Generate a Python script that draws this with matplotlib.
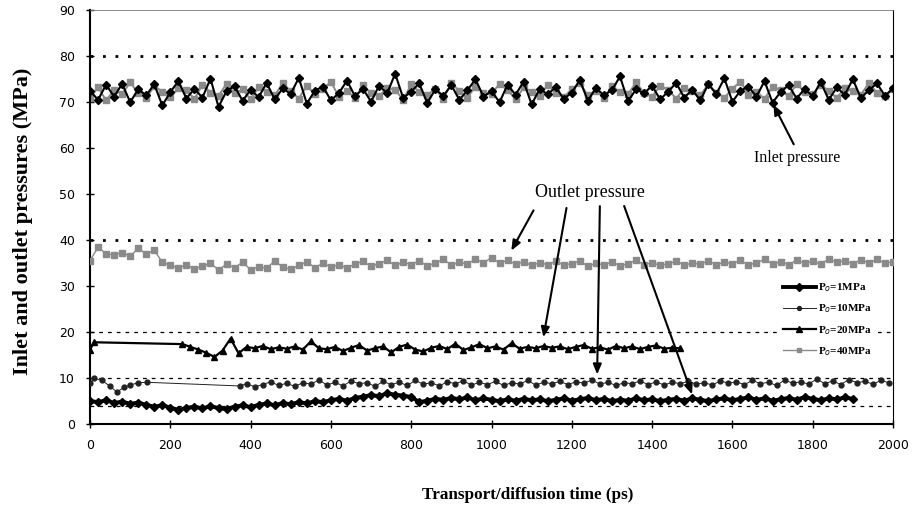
import matplotlib
matplotlib.use("Agg")
import matplotlib.pyplot as plt

# inlet pressure traces (every 20 ps from 0 to 2000)
inlet_black = [
    72.5, 70.5, 73.8, 71.2, 74.0, 70.0, 72.8, 71.5, 73.9, 69.3, 72.2, 74.6, 70.8, 72.9, 71.0, 75.1, 69.0, 72.4, 73.5, 70.3,
    72.7, 71.1, 74.2, 70.6, 73.0, 71.8, 75.3, 69.7, 72.5, 73.4, 70.4, 72.0, 74.7, 71.3, 72.9, 70.1, 73.6, 71.9, 76.2, 70.9,
    72.3, 74.1, 69.8, 72.8, 71.4, 73.7, 70.5, 72.6, 75.0, 71.2, 72.4, 70.0, 73.8, 71.6, 74.5, 69.5, 72.9, 71.7, 73.3, 70.7,
    72.1, 74.8, 70.3, 73.1, 71.5, 72.6, 75.6, 70.2, 72.8, 71.9, 73.6, 70.6, 72.3, 74.2, 71.0, 72.7, 70.4, 73.9, 71.8, 75.2,
    70.1, 72.5, 73.4, 71.2, 74.6, 69.9, 72.2, 73.7, 70.8, 72.9, 71.3, 74.4, 70.5, 73.2, 71.6, 75.0, 70.9, 72.6, 74.1, 71.4, 73.0]
inlet_gray = [
    71.0, 73.2, 70.4, 72.6, 71.8, 74.3, 72.0, 70.9, 73.5, 72.3, 71.1, 73.0, 72.6, 70.7, 73.8, 72.1, 71.4, 74.0, 71.9, 72.8,
    70.6, 73.3, 72.2, 71.5, 74.1, 72.4, 70.8, 73.6, 71.7, 72.9, 74.4, 71.2, 72.5, 70.9, 73.7, 72.0, 71.3, 73.1, 72.7, 70.5,
    73.9, 72.2, 71.6, 72.9, 70.7, 74.2, 72.4, 71.0, 73.4, 72.1, 71.8, 74.0, 72.6, 70.6, 73.2, 72.3, 71.4, 73.8, 72.0, 71.1,
    72.8, 74.1, 71.5, 72.5, 70.9, 73.5, 72.2, 71.7, 74.3, 72.0, 71.2, 73.6, 72.7, 70.8, 73.0, 72.4, 71.5, 73.9, 72.1, 71.0,
    72.9, 74.5, 71.6, 72.3, 70.7, 73.4, 72.6, 71.3, 74.0, 72.2, 71.8, 73.7, 72.5, 70.9, 73.1, 72.4, 71.6, 74.2, 72.0, 71.4, 72.8]

# outlet pressures
p40 = [
    35.5, 38.5, 37.0, 36.8, 37.3, 36.5, 38.2, 37.0, 37.8, 35.2, 34.5, 34.0, 34.6, 33.8, 34.3, 35.0, 33.5, 34.8, 34.0, 35.2,
    33.6, 34.2, 33.9, 35.5, 34.1, 33.7, 34.5, 35.3, 34.0, 35.0, 34.2, 34.6, 34.0, 34.8, 35.4, 34.3, 34.9, 35.6, 34.5, 35.2,
    34.7, 35.5, 34.4, 35.0, 35.8, 34.6, 35.2, 34.8, 35.9, 35.1, 36.2, 35.0, 35.6, 34.8, 35.3, 34.5, 35.1, 34.7, 35.4, 34.6,
    34.9, 35.5, 34.3, 35.0, 34.6, 35.3, 34.4, 34.9, 35.6, 34.7, 35.1, 34.5, 34.9, 35.4, 34.6, 35.0, 34.8, 35.5, 34.7, 35.2,
    34.9, 35.6, 34.6, 35.1, 35.8, 34.8, 35.3, 34.7, 35.6, 35.0, 35.4, 34.8, 35.9, 35.2, 35.5, 34.9, 35.7, 35.1, 35.8, 35.0, 35.3]

t20_head = [0, 10, 230]
p20_head = [16.2, 17.8, 17.4]
p20_tail = [  # from 250 ps, every 20 ps
    16.8, 16.2, 15.5, 14.6, 16.0, 18.6, 15.4, 16.8, 16.5, 17.0, 16.3, 16.7, 16.4, 16.9, 16.2, 18.0, 16.5, 16.3, 16.8, 15.9,
    16.6, 17.2, 16.0, 16.5, 16.9, 15.6, 16.8, 17.3, 16.2, 15.8, 16.6, 17.0, 16.3, 17.5, 16.1, 16.7, 17.4, 16.5, 16.9, 16.2,
    17.6, 16.4, 16.8, 16.5, 17.0, 16.6, 16.9, 16.3, 16.8, 17.2, 16.4, 16.7, 16.2, 17.0, 16.5, 16.9, 16.3, 16.8, 17.1, 16.4,
    16.6, 16.5]

t10_head = [0, 10, 30, 50, 67, 85, 100, 120, 141, 373]
p10_head = [8.9, 10.0, 9.5, 8.2, 7.0, 8.0, 8.5, 9.0, 9.1, 8.3]
p10_tail = [  # from 390 ps, every 20 ps
    8.8, 8.1, 8.6, 9.2, 8.4, 8.9, 8.2, 9.0, 8.7, 9.6, 8.5, 9.1, 8.3, 9.4, 8.8, 9.0, 8.2, 9.3, 8.6, 9.1,
    8.4, 9.5, 8.7, 9.0, 8.3, 9.2, 8.8, 9.4, 8.5, 9.1, 8.6, 9.3, 8.4, 9.0, 8.7, 9.5, 8.5, 9.1, 8.8, 9.3,
    8.6, 9.2, 8.9, 9.6, 8.7, 9.1, 8.4, 9.0, 8.8, 9.4, 8.6, 9.2, 8.5, 9.1, 8.8, 9.3, 8.7, 9.0, 8.5, 9.4,
    8.9, 9.2, 8.6, 9.5, 8.8, 9.1, 8.4, 9.6, 8.9, 9.2, 8.7, 9.8, 8.8, 9.4, 8.6, 9.7, 9.0, 9.3, 8.7, 9.5, 9.0]

p1 = [  # every 20 ps, 0..1900
    5.0, 4.8, 5.2, 4.6, 4.9, 4.4, 4.7, 4.2, 3.8, 4.1, 3.6, 3.1, 3.5, 3.8, 3.4, 3.9, 3.5, 3.3, 3.8, 4.1,
    3.7, 4.2, 4.5, 4.1, 4.6, 4.3, 4.8, 4.5, 5.0, 4.8, 5.2, 5.5, 5.1, 5.7, 6.0, 6.3, 6.1, 6.7, 6.4, 6.2,
    5.9, 4.8, 5.1, 5.5, 5.3, 5.7, 5.4, 5.8, 5.2, 5.6, 5.3, 5.0, 5.4, 5.1, 5.5, 5.2, 5.4, 5.0, 5.3, 5.6,
    5.1, 5.4, 5.7, 5.2, 5.5, 5.0, 5.3, 5.1, 5.6, 5.2, 5.4, 5.0, 5.3, 5.5, 5.1, 5.6, 5.3, 5.0, 5.4, 5.6,
    5.2, 5.5, 5.8, 5.3, 5.6, 5.1, 5.4, 5.7, 5.3, 5.9, 5.5, 5.2, 5.6, 5.4, 5.8, 5.5]

ref_heavy = [80, 40]
ref_light = [20, 10, 4]
labels = ["P$_o$=1MPa", "P$_o$=10MPa", "P$_o$=20MPa", "P$_o$=40MPa"]

t_full = [20 * i for i in range(len(inlet_black))]
t1 = [20 * i for i in range(len(p1))]
t20 = t20_head + [250 + 20 * i for i in range(len(p20_tail))]
t10 = t10_head + [390 + 20 * i for i in range(len(p10_tail))]

serif = "Liberation Serif"
fig = plt.figure(figsize=(9.14, 5.11), dpi=100)
ax = fig.add_axes([0.0985, 0.170, 0.8785, 0.810])

for y in ref_heavy:
    ax.axhline(y, color="black", lw=2, ls=(0, (1, 3.5)), zorder=1)
for y in ref_light:
    ax.axhline(y, color="black", lw=0.9, ls=(0, (3, 4)), zorder=1)

gray = "#8a8a8a"
ax.plot(t_full, inlet_gray, color=gray, lw=1.4, marker="s", ms=4.5, zorder=2)
ax.plot(t_full, inlet_black, color="black", lw=1.5, marker="D", ms=4, zorder=3)

l1, = ax.plot(t1, p1, color="black", lw=2.8, marker="D", ms=4.5, zorder=3)
l10, = ax.plot(t10, p10_head + p10_tail, color="#222222", lw=0.7, marker="o", ms=3.5, zorder=3)
l20, = ax.plot(t20, p20_head + p20_tail, color="black", lw=1.6, marker="^", ms=5, zorder=3)
l40, = ax.plot(t_full, p40, color=gray, lw=1.0, marker="s", ms=3.8, zorder=3)

leg = ax.legend([l1, l10, l20, l40], labels, loc="upper left", bbox_to_anchor=(0.86, 0.35),
                frameon=True, framealpha=1, edgecolor="white", fancybox=False,
                prop={"family": serif, "size": 8, "weight": "bold"},
                handlelength=3.0, handletextpad=0.2, labelspacing=0.75, borderpad=0.2,
                borderaxespad=0, markerscale=0.8)
leg.set_zorder(5)

arrow = dict(arrowstyle="-|>,head_length=0.6,head_width=0.25", color="black", lw=1.5)
ax.text(1245, 50.4, "Outlet pressure", family=serif, fontsize=13, ha="center", va="center")
for start, tip in [((1108, 47), (1046, 37.2)), ((1188, 47.6), (1128, 18.3)),
                   ((1270, 48), (1263, 10.2)), ((1328, 48), (1502, 5.9))]:
    ax.annotate("", xy=tip, xytext=start, arrowprops=arrow, zorder=6)
ax.text(1761, 57.8, "Inlet pressure", family=serif, fontsize=11.5, ha="center", va="center")
ax.annotate("", xy=(1699, 70), xytext=(1756, 60.3), arrowprops=arrow, zorder=6)

ax.set_xlim(0, 2000)
ax.set_ylim(0, 90)
ax.set_xticks(range(0, 2001, 200))
ax.set_yticks(range(0, 91, 10))
ax.tick_params(direction="inout", length=6, width=1, labelsize=9, pad=8)
for lab in ax.get_xticklabels() + ax.get_yticklabels():
    lab.set_family("DejaVu Sans")
ax.spines["left"].set_linewidth(1.5)
ax.spines["bottom"].set_linewidth(1.5)
ax.spines["right"].set_linewidth(0.8)
ax.spines["top"].set_linewidth(0.6)
ax.spines["top"].set_color("#777777")

fig.text(23 / 914, 1 - 221 / 511, "Inlet and outlet pressures (MPa)", rotation=90,
         ha="center", va="center", family=serif, fontsize=16, weight="bold")
fig.text(528 / 914, 1 - 495 / 511, "Transport/diffusion time (ps)",
         ha="center", va="center", family=serif, fontsize=12.3, weight="bold")

fig.savefig("out.png", dpi=100)
